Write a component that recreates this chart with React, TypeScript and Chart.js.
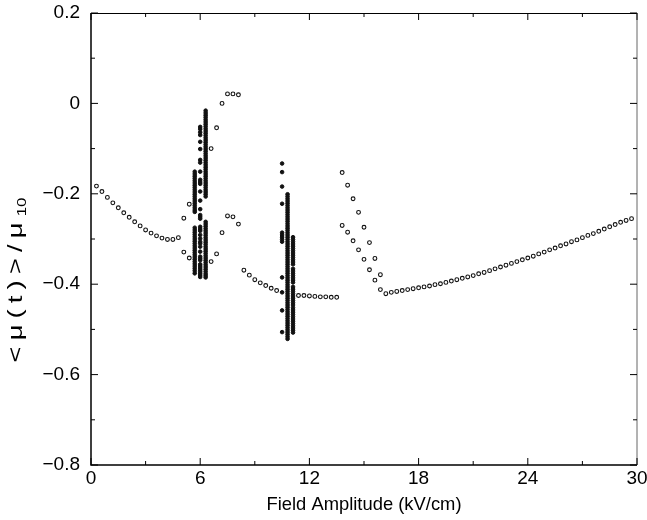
import React, { useEffect, useRef } from 'react';
import { Chart, registerables } from 'chart.js';
Chart.register(...registerables);

const FONT = '"Liberation Sans", Arial, Helvetica, sans-serif';

// Axis ticks
const xMajorTicks = [0, 6, 12, 18, 24, 30];
const xMinorTicks = [3, 9, 15, 21, 27];
const yMajorTicks = [-0.8, -0.6, -0.4, -0.2, 0, 0.2];
const yMinorTicks = [-0.7, -0.5, -0.3, -0.1, 0.1];
const xTickLabels = ['0', '6', '12', '18', '24', '30'];
const yTickLabels = ['\u22120.8', '\u22120.6', '\u22120.4', '\u22120.2', '0', '0.2'];
const xTitle = 'Field Amplitude (kV/cm)';
const yTitleMain = ['<', 'μ', '(', 't', ')', '>', '/', 'μ'];
const yTitleSub = '10';

// Single-valued branches (open circles)
const branchLowX = [0.3, 0.6, 0.9, 1.2, 1.5, 1.8, 2.1, 2.4, 2.7, 3.0, 3.3, 3.6, 3.9, 4.2, 4.5, 4.8];
const branchLowY = [-0.183, -0.195, -0.208, -0.22, -0.231, -0.242, -0.252, -0.262, -0.271, -0.28, -0.287, -0.293, -0.298, -0.301, -0.301, -0.297];
const kneeX = [5.1, 5.4, 5.1, 5.4];
const kneeY = [-0.254, -0.223, -0.329, -0.342];
const upperArcX = [6.6, 6.9, 7.2, 7.5, 7.8, 8.1];
const upperArcY = [-0.1, -0.054, 0.0, 0.021, 0.021, 0.019];
const lowerArcX = [6.6, 6.9, 7.2, 7.5, 7.8, 8.1];
const lowerArcY = [-0.35, -0.333, -0.286, -0.249, -0.251, -0.267];
const midBranchX = [8.4, 8.7, 9.0, 9.3, 9.6, 9.9, 10.2];
const midBranchY = [-0.369, -0.38, -0.39, -0.397, -0.403, -0.409, -0.414];
const flatX = [11.4, 11.7, 12.0, 12.3, 12.6, 12.9, 13.2, 13.5];
const flatY = [-0.425, -0.425, -0.426, -0.427, -0.428, -0.428, -0.429, -0.429];
const riseUpperX = [13.8, 14.1, 14.4, 14.7, 15.0, 15.3, 15.6, 15.9];
const riseUpperY = [-0.153, -0.181, -0.211, -0.241, -0.274, -0.308, -0.343, -0.379];
const riseLowerX = [13.8, 14.1, 14.4, 14.7, 15.0, 15.3, 15.6, 15.9];
const riseLowerY = [-0.27, -0.285, -0.304, -0.324, -0.345, -0.368, -0.391, -0.412];
const tailX = [16.2, 16.5, 16.8, 17.1, 17.4, 17.7, 18.0, 18.3, 18.6, 18.9, 19.2, 19.5, 19.8, 20.1, 20.4, 20.7,
  21.0, 21.3, 21.6, 21.9, 22.2, 22.5, 22.8, 23.1, 23.4, 23.7, 24.0, 24.3, 24.6, 24.9, 25.2, 25.5, 25.8,
  26.1, 26.4, 26.7, 27.0, 27.3, 27.6, 27.9, 28.2, 28.5, 28.8, 29.1, 29.4, 29.7];
const tailY = [-0.421, -0.418, -0.416, -0.414, -0.412, -0.41, -0.408, -0.406, -0.404, -0.401, -0.399, -0.396,
  -0.393, -0.39, -0.387, -0.384, -0.381, -0.377, -0.374, -0.37, -0.366, -0.362, -0.358, -0.354, -0.35,
  -0.346, -0.342, -0.338, -0.333, -0.329, -0.324, -0.32, -0.315, -0.311, -0.306, -0.302, -0.297, -0.292,
  -0.288, -0.283, -0.278, -0.273, -0.268, -0.263, -0.259, -0.255];

// Multi-valued columns (dense sampling at a single field value)
const col57X = 5.7;
const col57Y = [-0.151, -0.156, -0.161, -0.166, -0.171, -0.176, -0.181, -0.186, -0.191, -0.196, -0.201, -0.206,
  -0.211, -0.216, -0.221, -0.226, -0.231, -0.236, -0.24,
  -0.275, -0.28, -0.285, -0.29, -0.295, -0.3, -0.305, -0.31, -0.315, -0.32, -0.325, -0.33, -0.335, -0.34,
  -0.345, -0.35, -0.355, -0.36, -0.365, -0.37, -0.376];
const col60X = 6.0;
const col60Y = [-0.052, -0.057, -0.064, -0.07, -0.085, -0.101, -0.125, -0.131, -0.151, -0.169, -0.174, -0.178,
  -0.195, -0.215, -0.234, -0.247, -0.251, -0.255, -0.273, -0.278, -0.282, -0.291, -0.299, -0.306, -0.31,
  -0.317, -0.328, -0.339, -0.343, -0.347, -0.356, -0.36, -0.364, -0.368, -0.372, -0.376, -0.38, -0.384];
const col63X = 6.3;
const col63Y = [-0.016, -0.021, -0.026, -0.031, -0.036, -0.041, -0.046, -0.051, -0.056, -0.061, -0.066, -0.071,
  -0.076, -0.081, -0.086, -0.091, -0.096, -0.101, -0.106, -0.111, -0.116, -0.121, -0.126, -0.131, -0.136,
  -0.141, -0.146, -0.151, -0.156, -0.161, -0.166, -0.171, -0.176, -0.181, -0.186, -0.191, -0.196, -0.201, -0.206,
  -0.262, -0.267, -0.272, -0.277, -0.282, -0.287, -0.292, -0.297, -0.302, -0.307, -0.312, -0.317, -0.322,
  -0.327, -0.332, -0.337, -0.342, -0.347, -0.352, -0.357, -0.362, -0.367, -0.372, -0.377, -0.381, -0.385];
const col105X = 10.5;
const col105Y = [-0.133, -0.152, -0.184, -0.222, -0.286, -0.291, -0.296, -0.301, -0.306, -0.385, -0.418, -0.458, -0.506];
const col108X = 10.8;
const col108Y = [-0.201, -0.206, -0.211, -0.216, -0.221, -0.226, -0.231, -0.236, -0.241, -0.246, -0.251, -0.256,
  -0.261, -0.266, -0.271, -0.276, -0.281, -0.286, -0.291, -0.296, -0.301, -0.306, -0.311, -0.316, -0.321,
  -0.326, -0.331, -0.336, -0.341, -0.346, -0.351, -0.356, -0.361, -0.366, -0.371, -0.376, -0.381, -0.386,
  -0.391, -0.396, -0.401, -0.406, -0.411, -0.416, -0.421, -0.426, -0.431, -0.436, -0.441, -0.446, -0.451,
  -0.456, -0.461, -0.466, -0.471, -0.476, -0.481, -0.486, -0.491, -0.496, -0.501, -0.506, -0.511, -0.516, -0.521];
const col111X = 11.1;
const col111Y = [-0.296, -0.301, -0.306, -0.311, -0.316, -0.321, -0.326, -0.331, -0.336, -0.341, -0.346, -0.351,
  -0.356, -0.366, -0.371, -0.376, -0.381, -0.386, -0.391, -0.396, -0.406, -0.411, -0.416, -0.421, -0.426,
  -0.431, -0.436, -0.441, -0.446, -0.452, -0.457, -0.462, -0.467, -0.472, -0.477, -0.482, -0.487, -0.492,
  -0.497, -0.502, -0.507];

const pairs = (xs: number[], ys: number[]) => xs.map((x, i) => ({ x, y: ys[i] }));
const column = (x: number, ys: number[]) => ys.map((y) => ({ x, y }));

const frameAndText = {
  id: 'frameAndText',
  afterDatasetsDraw(chart: any) {
    const { ctx, chartArea: a, scales } = chart;
    const xs = scales.x;
    const ys = scales.y;
    ctx.save();
    ctx.strokeStyle = '#000';
    // frame
    ctx.lineWidth = 1.5;
    ctx.beginPath();
    ctx.moveTo(a.left, a.top);
    ctx.lineTo(a.left, a.bottom);
    ctx.lineTo(a.right, a.bottom);
    ctx.stroke();
    ctx.lineWidth = 1;
    ctx.beginPath();
    ctx.moveTo(a.left, a.top + 0.5);
    ctx.lineTo(a.right, a.top + 0.5);
    ctx.stroke();
    ctx.strokeStyle = '#666';
    ctx.beginPath();
    ctx.moveTo(a.right, a.top);
    ctx.lineTo(a.right, a.bottom);
    ctx.stroke();
    ctx.strokeStyle = '#000';
    // ticks
    const xTick = (v: number, len: number) => {
      const p = xs.getPixelForValue(v);
      ctx.beginPath();
      ctx.moveTo(p, a.bottom);
      ctx.lineTo(p, a.bottom - len);
      ctx.moveTo(p, a.top);
      ctx.lineTo(p, a.top + len);
      ctx.stroke();
    };
    const yTick = (v: number, len: number) => {
      const p = ys.getPixelForValue(v);
      ctx.beginPath();
      ctx.moveTo(a.left, p);
      ctx.lineTo(a.left + len, p);
      ctx.moveTo(a.right, p);
      ctx.lineTo(a.right - len, p);
      ctx.stroke();
    };
    ctx.lineWidth = 1;
    xMajorTicks.forEach((v) => xTick(v, 7));
    xMinorTicks.forEach((v) => xTick(v, 4));
    yMajorTicks.forEach((v) => yTick(v, 7));
    yMinorTicks.forEach((v) => yTick(v, 4));
    // tick labels
    ctx.fillStyle = '#000';
    ctx.font = `19px ${FONT}`;
    ctx.textAlign = 'center';
    ctx.textBaseline = 'middle';
    xMajorTicks.forEach((v, i) => {
      ctx.fillText(xTickLabels[i], xs.getPixelForValue(v), a.bottom + 14);
    });
    ctx.textAlign = 'right';
    yMajorTicks.forEach((v, i) => {
      ctx.fillText(yTickLabels[i], a.left - 11, ys.getPixelForValue(v));
    });
    // x title
    ctx.font = `19px ${FONT}`;
    const wx = ctx.measureText(xTitle).width;
    const sx = 195 / wx;
    ctx.save();
    ctx.translate((a.left + a.right) / 2, a.bottom + 40);
    ctx.scale(sx, 1);
    ctx.textAlign = 'center';
    ctx.fillText(xTitle, 0, 0);
    ctx.restore();
    // y title (rotated, with subscript)
    ctx.save();
    ctx.translate(16, 280);
    ctx.rotate(-Math.PI / 2);
    const stretch = 1.3;
    ctx.scale(stretch, 1);
    ctx.textAlign = 'left';
    ctx.textBaseline = 'middle';
    const mainFont = `21px ${FONT}`;
    const subFont = `13px ${FONT}`;
    ctx.font = mainFont;
    const widths = yTitleMain.map((c) => ctx.measureText(c).width);
    ctx.font = subFont;
    const subW = ctx.measureText(yTitleSub).width;
    const natural = widths.reduce((s, w) => s + w, 0) + subW;
    const target = 165 / stretch;
    const gap = Math.max(0, (target - natural) / yTitleMain.length);
    let pos = -target / 2;
    ctx.font = mainFont;
    yTitleMain.forEach((c, i) => {
      ctx.fillText(c, pos, 0);
      pos += widths[i] + gap;
    });
    ctx.font = subFont;
    ctx.fillText(yTitleSub, pos, 6);
    ctx.restore();
    ctx.restore();
  },
};

export default function App() {
  const ref = useRef<HTMLCanvasElement | null>(null);
  useEffect(() => {
    if (!ref.current) return;
    const openPts = [
      ...pairs(branchLowX, branchLowY),
      ...pairs(kneeX, kneeY),
      ...pairs(upperArcX, upperArcY),
      ...pairs(lowerArcX, lowerArcY),
      ...pairs(midBranchX, midBranchY),
      ...pairs(flatX, flatY),
      ...pairs(riseUpperX, riseUpperY),
      ...pairs(riseLowerX, riseLowerY),
      ...pairs(tailX, tailY),
    ];
    const densePts = [
      ...column(col57X, col57Y),
      ...column(col60X, col60Y),
      ...column(col63X, col63Y),
      ...column(col105X, col105Y),
      ...column(col108X, col108Y),
      ...column(col111X, col111Y),
    ];
    const chart = new Chart(ref.current, {
      type: 'scatter',
      data: {
        datasets: [
          {
            data: densePts,
            pointRadius: 1.8,
            pointBorderWidth: 1,
            borderColor: '#111',
            backgroundColor: '#111',
          },
          {
            data: openPts,
            pointRadius: 1.9,
            pointBorderWidth: 1.1,
            borderColor: '#111',
            backgroundColor: '#fff',
          },
        ],
      },
      options: {
        responsive: false,
        animation: false,
        layout: { padding: { left: 0, right: 10, top: 13, bottom: 0 } },
        plugins: { legend: { display: false }, tooltip: { enabled: false } },
        scales: {
          x: {
            type: 'linear',
            min: 0,
            max: 30,
            ticks: { display: false, stepSize: 6 },
            grid: { display: false, drawTicks: false },
            border: { display: false },
            afterFit: (s: any) => { s.height = 55; },
          },
          y: {
            type: 'linear',
            min: -0.8,
            max: 0.2,
            ticks: { display: false, stepSize: 0.2 },
            grid: { display: false, drawTicks: false },
            border: { display: false },
            afterFit: (s: any) => { s.width = 91; },
          },
        },
      },
      plugins: [frameAndText],
    });
    return () => chart.destroy();
  }, []);
  return (
    <div style={{ position: 'absolute', left: 0, top: 0, width: 647, height: 520, background: '#fff' }}>
      <canvas ref={ref} width={647} height={520} style={{ width: 647, height: 520, display: 'block' }} />
    </div>
  );
}
